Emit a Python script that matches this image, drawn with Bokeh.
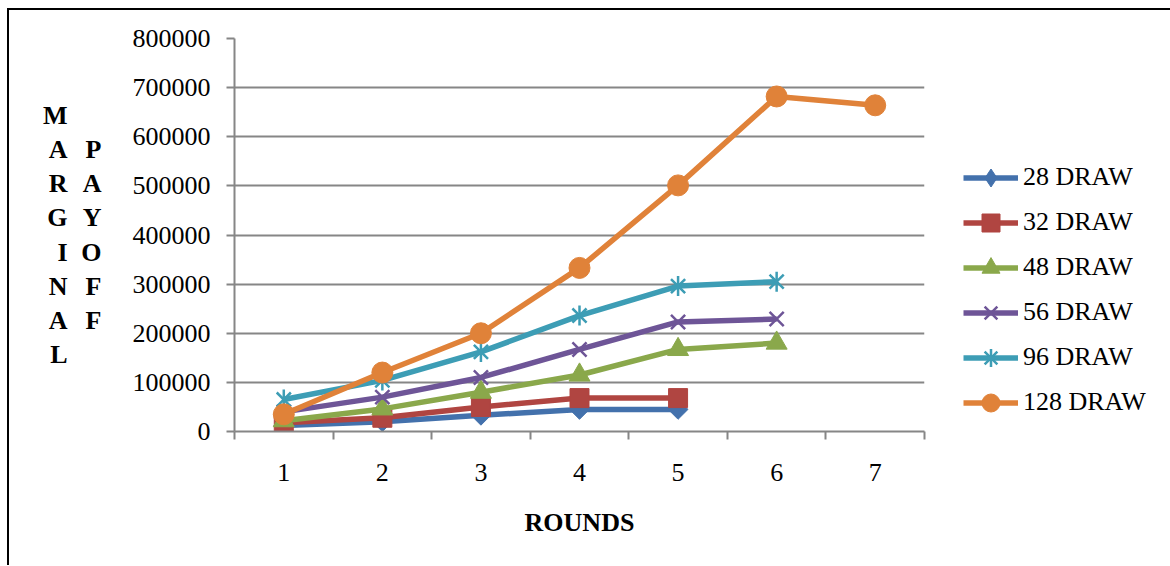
from bokeh.plotting import figure
from bokeh.models import FixedTicker, NumeralTickFormatter, Legend, LegendItem, LinearAxis
from bokeh.embed import file_html
from bokeh.resources import INLINE

# Marginal payoff per round for each draw size
rounds = [1, 2, 3, 4, 5, 6, 7]
draw_28 = [12000, 20000, 33000, 45000, 45000]
draw_32 = [18000, 28000, 50000, 68000, 68000]
draw_48 = [22000, 46000, 80000, 115000, 167000, 180000]
draw_56 = [40000, 70000, 110000, 167000, 223000, 229000]
draw_96 = [65000, 104000, 162000, 236000, 296000, 305000]
draw_128 = [35000, 120000, 200000, 333000, 501000, 682000, 664000]

series_names = ["28 DRAW", "32 DRAW", "48 DRAW", "56 DRAW", "96 DRAW", "128 DRAW"]
series_values = [draw_28, draw_32, draw_48, draw_56, draw_96, draw_128]
y_ticks = [0, 100000, 200000, 300000, 400000, 500000, 600000, 700000, 800000]
y_title_outer = "MARGINAL"
y_title_inner = "PAYOFF"
x_title = "ROUNDS"

colors = ["#4371ac", "#b04541", "#8aa84b", "#6e5597", "#3d9db5", "#e08239"]

SERIF = "Liberation Serif"
FONT_PX = "26px"
GRAY = "#868686"
STACK_LINE_H = 1.174
# the canvas sits inside a page frame drawn with CSS (top and left rules)
OFF_X, OFF_Y = 9, 10

p = figure(frame_width=690, frame_height=393, output_backend="svg", toolbar_location=None,
           x_range=(0.5, 7.5), y_range=(0, 800000),
           min_border_left=234 - OFF_X, min_border_right=1170 - OFF_X - 924 - 4,
           min_border_top=38 - OFF_Y, min_border_bottom=134,
           background_fill_color="white", border_fill_color="white")
p.outline_line_color = None
p.margin = (8, 0, 0, 7)
p.styles = {"border-top": "2px solid black", "border-left": "2px solid black"}

# axes
p.xaxis.ticker = FixedTicker(ticks=rounds, minor_ticks=[r - 0.5 for r in rounds] + [7.5])
p.yaxis.ticker = FixedTicker(ticks=y_ticks)
p.yaxis.formatter = NumeralTickFormatter(format="0")
for ax in (p.xaxis, p.yaxis):
    ax.axis_line_color = GRAY
    ax.axis_line_width = 2
    ax.major_label_text_font = SERIF
    ax.major_label_text_font_size = FONT_PX
    ax.major_label_text_color = "black"
    ax.axis_label_text_font = SERIF
    ax.axis_label_text_font_style = "bold"
    ax.axis_label_text_font_size = FONT_PX
    ax.axis_label_text_color = "black"

p.yaxis.major_tick_line_color = GRAY
p.yaxis.major_tick_line_width = 2
p.yaxis.major_tick_in = 0
p.yaxis.major_tick_out = 8
p.yaxis.minor_tick_line_color = None
p.yaxis.major_label_standoff = 16
# stacked title, one letter per line, in two columns
p.yaxis.axis_label = "\n".join(y_title_inner)
p.yaxis.axis_label_orientation = "horizontal"
p.yaxis.axis_label_align = "center"
p.yaxis.axis_label_text_line_height = STACK_LINE_H
p.yaxis.axis_label_standoff = 28

outer = LinearAxis(ticker=FixedTicker(ticks=[]), axis_line_color=None,
                   major_tick_line_color=None, minor_tick_line_color=None,
                   major_tick_out=0, minor_tick_out=0, major_label_standoff=0,
                   axis_label="\n".join(y_title_outer), axis_label_orientation="horizontal",
                   axis_label_align="center",
                   axis_label_text_line_height=STACK_LINE_H,
                   axis_label_standoff=11, axis_label_text_font=SERIF,
                   axis_label_text_font_style="bold", axis_label_text_font_size=FONT_PX,
                   axis_label_text_color="black")
p.add_layout(outer, "left")

p.xaxis.major_tick_line_color = None
p.xaxis.major_tick_in = 0
p.xaxis.major_tick_out = 0
p.xaxis.minor_tick_line_color = GRAY
p.xaxis.minor_tick_line_width = 2
p.xaxis.minor_tick_in = 0
p.xaxis.minor_tick_out = 8
p.xaxis.major_label_standoff = 24
p.xaxis.axis_label = x_title
p.xaxis.axis_label_standoff = 24

p.xgrid.grid_line_color = None
p.ygrid.grid_line_color = GRAY
p.ygrid.grid_line_width = 2
p.ygrid.ticker = FixedTicker(ticks=y_ticks)

LINE_W = 5.5
items = []
for name, vals, c in zip(series_names, series_values, colors):
    xs = rounds[:len(vals)]
    lr = p.line(xs, vals, line_color=c, line_width=LINE_W)
    if name == "28 DRAW":
        mr = p.scatter(xs, vals, marker="square", size=14, angle=0.785398, fill_color=c, line_color=c)
        key = p.scatter(xs, vals, marker="diamond", size=18, fill_color=c, line_color=c, visible=False)
        keys = [lr, key]
    elif name == "32 DRAW":
        mr = p.scatter(xs, vals, marker="square", size=19, fill_color=c, line_color=c)
        keys = [lr, mr]
    elif name == "48 DRAW":
        mr = p.scatter(xs, vals, marker="triangle", size=21, fill_color=c, line_color=c)
        keys = [lr, mr]
    elif name == "56 DRAW":
        mr = p.scatter(xs, vals, marker="x", size=20, line_color=c, line_width=2.5)
        keys = [lr, mr]
    elif name == "96 DRAW":
        mr = p.scatter(xs, vals, marker="x", size=20, line_color=c, line_width=2.5)
        bar = p.scatter(xs, vals, marker="dash", size=20, angle=1.570796, line_color=c, line_width=2.5)
        key = p.scatter(xs, vals, marker="cross", size=18, line_color=c, line_width=2.5, visible=False)
        keys = [lr, mr, key]
    else:
        mr = p.scatter(xs, vals, marker="circle", size=21, fill_color=c, line_color=c)
        keys = [lr, mr]
    items.append(LegendItem(label=name, renderers=keys))

legend = Legend(items=items, location=(39, 6.5),
                glyph_width=55, glyph_height=45, label_height=45, spacing=0,
                padding=0, margin=0, label_standoff=5,
                label_text_font=SERIF, label_text_font_size=FONT_PX,
                label_text_color="black", border_line_color=None,
                background_fill_alpha=0)
p.add_layout(legend, "right")

open("out.html", "w").write(file_html(p, INLINE))
